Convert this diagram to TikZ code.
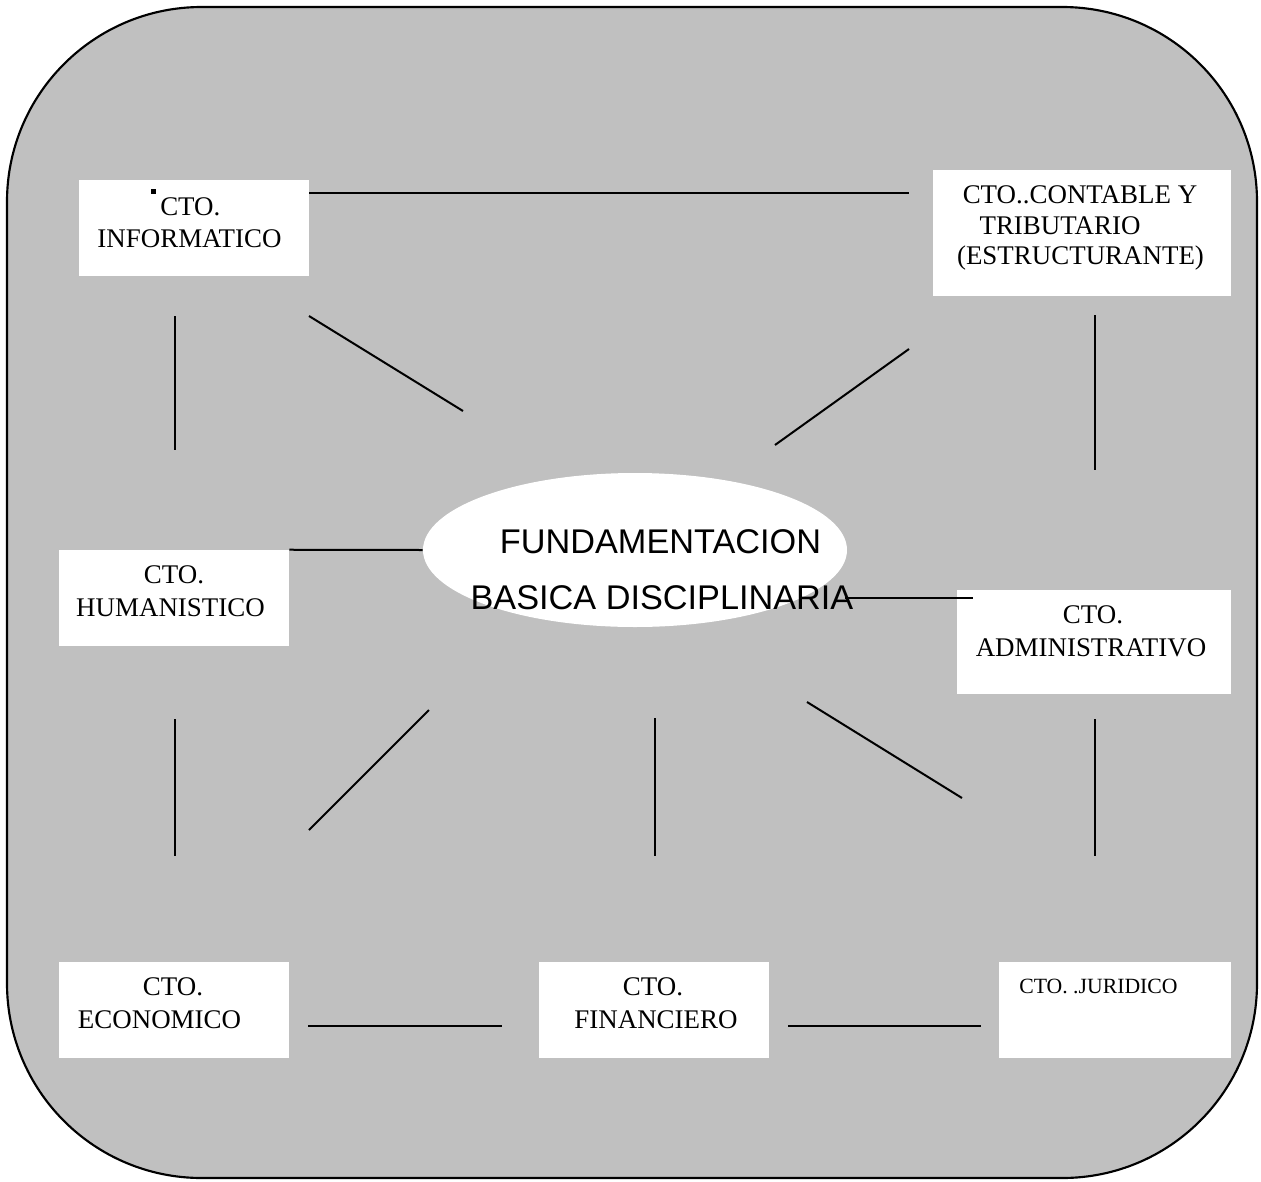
\documentclass[tikz,border=0pt]{standalone}
\usepackage{fontspec}
\setmainfont{Liberation Serif}
\newfontfamily\arialf{Liberation Sans}
\usetikzlibrary{shapes.geometric}
\definecolor{panelgray}{RGB}{192,192,192}
\begin{document}
\begin{tikzpicture}[x=0.75pt,y=-0.75pt,
  box/.style={rectangle, fill=white, draw=none, inner sep=0pt},
  lbl/.style={anchor=base, inner sep=0pt, font=\fontsize{20.2}{24}\selectfont},
  lblw/.style={anchor=base west, inner sep=0pt, font=\fontsize{20.2}{24}\selectfont},
  bigl/.style={anchor=base, inner sep=0pt, font=\arialf\fontsize{25.7}{30}\selectfont},
  conn/.style={line width=1.5pt}]
\useasboundingbox (0,0) rectangle (1261,1182);
\fill[white] (0,0) rectangle (1261,1182);
% outer panel
\draw[fill=panelgray, line width=1.6pt, rounded corners=146pt] (7,7) rectangle (1257,1178);

% central ellipse
\node[ellipse, fill=white, draw=none, inner sep=0pt, minimum width=318pt, minimum height=115.5pt] (fund) at (635,550) {};

% boxes
\node[box, minimum width=172.5pt, minimum height=72pt] (inf) at (194,228) {};
\node[box, minimum width=223.5pt, minimum height=94.5pt] (cont) at (1082,233) {};
\node[box, minimum width=172.5pt, minimum height=72pt] (hum) at (174,598) {};
\node[box, minimum width=205.5pt, minimum height=78pt] (adm) at (1094,642) {};
\node[box, minimum width=172.5pt, minimum height=72pt] (eco) at (174,1010) {};
\node[box, minimum width=172.5pt, minimum height=72pt] (fin) at (654,1010) {};
\node[box, minimum width=174pt, minimum height=72pt] (jur) at (1115,1010) {};

% texts
\fill (151,189) rectangle (156,194);
\node[lblw] (infa) at (160,215) {CTO.};
\node[lbl] (infb) at (189.5,247) {INFORMATICO};
\node[lbl] (conta) at (1080,203) {CTO..CONTABLE Y};
\node[lbl] (contb) at (1060,234) {TRIBUTARIO};
\node[lbl] (contc) at (1080.5,264) {(ESTRUCTURANTE)};
\node[lbl] (huma) at (174,583) {CTO.};
\node[lbl] (humb) at (170.5,616) {HUMANISTICO};
\node[lbl] (adma) at (1093,623) {CTO.};
\node[lbl] (admb) at (1091,656) {ADMINISTRATIVO};
\node[lbl] (ecoa) at (173,995) {CTO.};
\node[lbl] (ecob) at (159.5,1028) {ECONOMICO};
\node[lbl] (fina) at (653,995) {CTO.};
\node[lbl] (finb) at (656,1028) {FINANCIERO};
\node[anchor=base west, inner sep=0pt, font=\fontsize{16.3}{19}\selectfont] (jura) at (1019,993) {CTO. .JURIDICO};
\node[bigl] (funda) at (660.5,553) {FUNDAMENTACION};
\node[bigl] (fundb) at (662,609) {BASICA DISCIPLINARIA};

% connector end points
\coordinate (c1a) at (309,193); \coordinate (c1b) at (909,193);
\coordinate (c2a) at (175,316); \coordinate (c2b) at (175,450);
\coordinate (c3a) at (309,316); \coordinate (c3b) at (463,411);
\coordinate (c4a) at (909,349); \coordinate (c4b) at (775,445);
\coordinate (c5a) at (1095,315); \coordinate (c5b) at (1095,470);
\coordinate (c7a) at (845,598); \coordinate (c7b) at (973,598);
\coordinate (c8a) at (175,719); \coordinate (c8b) at (175,856);
\coordinate (c9a) at (429,710); \coordinate (c9b) at (309,830);
\coordinate (c10a) at (655,718); \coordinate (c10b) at (655,856);
\coordinate (c11a) at (807,702); \coordinate (c11b) at (962,798);
\coordinate (c12a) at (1095,719); \coordinate (c12b) at (1095,856);
\coordinate (c13a) at (308,1026); \coordinate (c13b) at (502,1026);
\coordinate (c14a) at (788,1026); \coordinate (c14b) at (981,1026);

% connectors
\draw[conn] (c1a) -- (c1b);
\draw[conn] (c2a) -- (c2b);
\draw[conn] (c3a) -- (c3b);
\draw[conn] (c4a) -- (c4b);
\draw[conn] (c5a) -- (c5b);
\draw[conn] (hum.north east) -- (fund.west);
\draw[conn] (c7a) -- (c7b);
\draw[conn] (c8a) -- (c8b);
\draw[conn] (c9a) -- (c9b);
\draw[conn] (c10a) -- (c10b);
\draw[conn] (c11a) -- (c11b);
\draw[conn] (c12a) -- (c12b);
\draw[conn] (c13a) -- (c13b);
\draw[conn] (c14a) -- (c14b);
\end{tikzpicture}
\end{document}
